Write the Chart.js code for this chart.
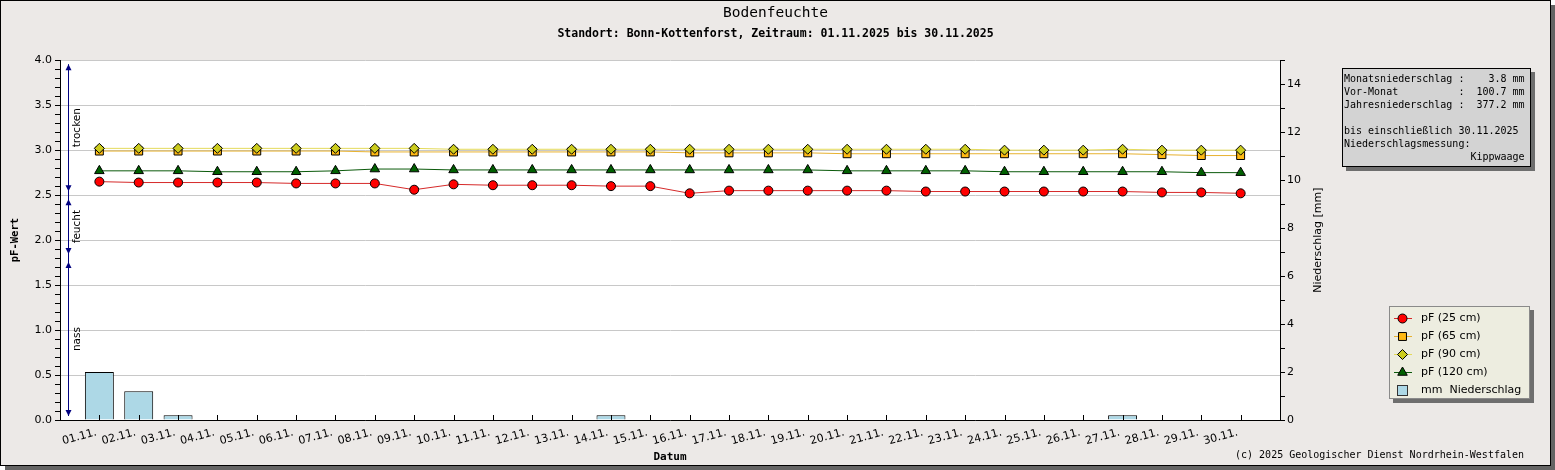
<!DOCTYPE html>
<html>
<head>
<meta charset="utf-8">
<title>Bodenfeuchte</title>
<script src="https://cdn.jsdelivr.net/npm/chart.js@4"></script>
<style>
  body { margin: 0; background: #fff; }
  #frame { position: absolute; left: 0; top: 0; width: 1549px; height: 464px; border: 1px solid #000; background: #ece9e7; box-shadow: 5px 5px 0 #646464; }
  #chart { position: absolute; left: 0; top: 0; }
  #info { position: absolute; left: 1341px; top: 67px; width: 189px; height: 99px; box-sizing: border-box; background: #d3d3d3; border: 1px solid #000; box-shadow: 4px 4px 0 #6e6e6e; font: 10px/13px 'DejaVu Sans Mono', monospace; white-space: pre; padding: 2.5px 0 0 1px; margin: 0; }
  #legend { position: absolute; left: 1388px; top: 305px; width: 141px; height: 93px; box-sizing: border-box; background: #edede0; border: 1px solid #8a8a8a; box-shadow: 4px 4px 0 #6e6e6e; }
  .legend-row { position: absolute; left: 0; width: 100%; height: 18px; }
  .legend-row canvas { position: absolute; left: 3px; top: 0; }
  .legend-row span { position: absolute; left: 31px; top: 0; font: 11px/18px 'DejaVu Sans', sans-serif; white-space: pre; }
  #copyright { position: absolute; right: 26px; top: 447px; font: 10px/13px 'DejaVu Sans Mono', monospace; white-space: pre; }
</style>
</head>
<body>
<div id="frame">
  <canvas id="chart" width="1549" height="464"></canvas>
  <pre id="info"></pre>
  <div id="legend"></div>
  <div id="copyright">(c) 2025 Geologischer Dienst Nordrhein-Westfalen</div>
</div>
<script>
// --- data ---
const dateLabels = ['01.11.', '02.11.', '03.11.', '04.11.', '05.11.', '06.11.', '07.11.', '08.11.', '09.11.', '10.11.',
  '11.11.', '12.11.', '13.11.', '14.11.', '15.11.', '16.11.', '17.11.', '18.11.', '19.11.', '20.11.',
  '21.11.', '22.11.', '23.11.', '24.11.', '25.11.', '26.11.', '27.11.', '28.11.', '29.11.', '30.11.'];

const pf25 = [2.65, 2.64, 2.64, 2.64, 2.64, 2.63, 2.63, 2.63, 2.56, 2.62,
  2.61, 2.61, 2.61, 2.60, 2.60, 2.52, 2.55, 2.55, 2.55, 2.55,
  2.55, 2.54, 2.54, 2.54, 2.54, 2.54, 2.54, 2.53, 2.53, 2.52];
const pf65 = [2.99, 2.99, 2.99, 2.99, 2.99, 2.99, 2.99, 2.98, 2.98, 2.98,
  2.98, 2.98, 2.98, 2.98, 2.98, 2.97, 2.97, 2.97, 2.97, 2.96,
  2.96, 2.96, 2.96, 2.96, 2.96, 2.96, 2.96, 2.95, 2.94, 2.94];
const pf90 = [3.02, 3.02, 3.02, 3.02, 3.02, 3.02, 3.02, 3.02, 3.02, 3.01,
  3.01, 3.01, 3.01, 3.01, 3.01, 3.01, 3.01, 3.01, 3.01, 3.01,
  3.01, 3.01, 3.01, 3.00, 3.00, 3.00, 3.01, 3.00, 3.00, 3.00];
const pf120 = [2.77, 2.77, 2.77, 2.76, 2.76, 2.76, 2.77, 2.79, 2.79, 2.78,
  2.78, 2.78, 2.78, 2.78, 2.78, 2.78, 2.78, 2.78, 2.78, 2.77,
  2.77, 2.77, 2.77, 2.76, 2.76, 2.76, 2.76, 2.76, 2.75, 2.75];
const precip = [2.0, 1.2, 0.2, 0, 0, 0, 0, 0, 0, 0,
  0, 0, 0, 0.2, 0, 0, 0, 0, 0, 0,
  0, 0, 0, 0, 0, 0, 0.2, 0, 0, 0];

const seriesLabels = ['pF (25 cm)', 'pF (65 cm)', 'pF (90 cm)', 'pF (120 cm)'];
const precipLabel = 'mm  Niederschlag';

// pF class limits (top to bottom) and their names
const zoneBounds = [4.0, 2.5, 1.8, 0];
const zoneNames = ['trocken', 'feucht', 'nass'];

const infoLines = [
  'Monatsniederschlag :    3.8 mm',
  'Vor-Monat          :  100.7 mm',
  'Jahresniederschlag :  377.2 mm',
  '',
  'bis einschließlich 30.11.2025',
  'Niederschlagsmessung:',
  '                     Kippwaage'
];

// --- styles ---
const MONO = "'DejaVu Sans Mono', monospace";
const SANS = "'DejaVu Sans', sans-serif";
const seriesStyles = [
  { line: '#d62a2a', fill: '#ff0000', point: 'circle', radius: 4.5 },
  { line: '#e8b230', fill: '#ffb914', point: 'rect', radius: 5.6 },
  { line: '#e4da5a', fill: '#cccc1e', point: 'rectRot', radius: 5 },
  { line: '#0b5a0b', fill: '#006000', point: 'triangle', radius: 5.5 }
];
const precipColor = '#add8e6';
const zoneColor = '#000080';

Chart.defaults.font.family = SANS;
Chart.defaults.font.size = 11;
Chart.defaults.color = '#000';

const toPoints = (values) => values.map((v, i) => ({ x: i + 1, y: v }));
const isMajor = (v) => Math.abs(v * 2 - Math.round(v * 2)) < 1e-6;

const datasets = [pf25, pf65, pf90, pf120].map((values, i) => ({
  type: 'line',
  label: seriesLabels[i],
  data: toPoints(values),
  yAxisID: 'y',
  borderColor: seriesStyles[i].line,
  borderWidth: 1,
  pointStyle: seriesStyles[i].point,
  pointRadius: seriesStyles[i].radius,
  pointBackgroundColor: seriesStyles[i].fill,
  pointBorderColor: '#000',
  pointBorderWidth: 1,
  tension: 0,
  order: 4 - i //deeper layers on top
}));

datasets.push({
  type: 'bar',
  label: precipLabel,
  data: toPoints(precip),
  yAxisID: 'y2',
  backgroundColor: precipColor,
  borderColor: '#000',
  borderWidth: 1,
  barPercentage: 0.92,
  categoryPercentage: 0.8,
  order: 10
});

//white plot area on the grey page
const plotBackground = {
  id: 'plotBackground',
  beforeDraw(chart) {
    const { ctx, chartArea: a } = chart;
    ctx.save();
    ctx.fillStyle = '#fff';
    ctx.fillRect(a.left, a.top, a.right - a.left, a.bottom - a.top);
    ctx.restore();
  }
};

//date ticks point into the plot
const innerTicks = {
  id: 'innerTicks',
  afterDatasetsDraw(chart) {
    const { ctx, chartArea: a, scales: { x } } = chart;
    ctx.save();
    ctx.strokeStyle = '#000';
    ctx.lineWidth = 1;
    ctx.beginPath();
    x.ticks.forEach((t) => {
      const px = Math.round(x.getPixelForValue(t.value)) + 0.5;
      ctx.moveTo(px, a.bottom);
      ctx.lineTo(px, a.bottom - 5);
    });
    ctx.stroke();
    ctx.restore();
  }
};

//trocken / feucht / nass arrows, plus the right axis title (reads bottom to top)
const moistureZones = {
  id: 'moistureZones',
  afterDraw(chart) {
    const { ctx, chartArea: a, scales: { y } } = chart;
    const x = a.left + 8.5;
    const head = (tipY, dir) => {
      ctx.beginPath();
      ctx.moveTo(x, tipY);
      ctx.lineTo(x - 3, tipY - dir * 6);
      ctx.lineTo(x + 3, tipY - dir * 6);
      ctx.closePath();
      ctx.fill();
    };

    ctx.save();
    ctx.strokeStyle = zoneColor;
    ctx.fillStyle = zoneColor;
    ctx.lineWidth = 1;
    ctx.beginPath();
    ctx.moveTo(x, y.getPixelForValue(zoneBounds[0]) + 4);
    ctx.lineTo(x, y.getPixelForValue(zoneBounds[zoneBounds.length - 1]) - 4);
    ctx.stroke();

    zoneNames.forEach((name, i) => {
      const top = y.getPixelForValue(zoneBounds[i]);
      const bottom = y.getPixelForValue(zoneBounds[i + 1]);
      ctx.fillStyle = zoneColor;
      head(top + 4, -1);
      head(bottom - 4, 1);

      ctx.save();
      ctx.fillStyle = '#000';
      ctx.font = '10.5px ' + SANS;
      ctx.textAlign = 'center';
      ctx.textBaseline = 'middle';
      ctx.translate(a.left + 17, (top + bottom) / 2);
      ctx.rotate(-Math.PI / 2);
      ctx.fillText(name, 0, 0);
      ctx.restore();
    });

    ctx.fillStyle = '#000';
    ctx.font = '11px ' + SANS;
    ctx.textAlign = 'center';
    ctx.textBaseline = 'middle';
    ctx.translate(a.right + 38, (a.top + a.bottom) / 2);
    ctx.rotate(-Math.PI / 2);
    ctx.fillText('Niederschlag [mm]', 0, 0);
    ctx.restore();
  }
};

new Chart(document.getElementById('chart'), {
  type: 'line',
  data: { datasets },
  plugins: [plotBackground, innerTicks, moistureZones],
  options: {
    responsive: false,
    animation: false,
    events: [],
    layout: { padding: 0 },
    plugins: {
      legend: { display: false },
      tooltip: { enabled: false },
      title: {
        display: true,
        text: 'Bodenfeuchte',
        color: '#000',
        font: { family: MONO, size: 14.5, weight: 'normal' },
        padding: { top: 4, bottom: 4 }
      },
      subtitle: {
        display: true,
        text: 'Standort: Bonn-Kottenforst, Zeitraum: 01.11.2025 bis 30.11.2025',
        color: '#000',
        font: { family: MONO, size: 11.5, weight: 'bold' },
        padding: { top: 1, bottom: 19 }
      }
    },
    scales: {
      x: {
        type: 'linear',
        min: 0,
        max: dateLabels.length + 1,
        offset: false,
        afterBuildTicks: (axis) => {
          axis.ticks = dateLabels.map((_, i) => ({ value: i + 1 }));
        },
        afterFit: (axis) => { axis.height = 45; },
        ticks: {
          autoSkip: false,
          minRotation: 15,
          maxRotation: 15,
          padding: 6,
          labelOffset: -3,
          font: { size: 11 },
          color: '#000',
          callback: (v) => dateLabels[v - 1]
        },
        grid: { display: false, drawTicks: false },
        border: { color: '#000' },
        title: {
          display: true,
          text: 'Datum',
          color: '#000',
          font: { family: MONO, size: 11, weight: 'bold' },
          padding: { top: 0, bottom: 1 }
        }
      },
      y: {
        position: 'left',
        min: 0,
        max: 4,
        afterFit: (axis) => { axis.width = 59; },
        ticks: {
          stepSize: 0.1,
          autoSkip: false,
          padding: 3,
          color: '#000',
          callback: (v) => isMajor(v) ? v.toFixed(1) : ''
        },
        grid: {
          color: (c) => (c.tick && isMajor(c.tick.value)) ? '#c8c8c8' : 'rgba(0,0,0,0)',
          tickColor: '#000',
          tickLength: 5
        },
        border: { color: '#000' },
        title: {
          display: true,
          text: 'pF-Wert',
          color: '#000',
          font: { family: MONO, size: 10.5, weight: 'bold' },
          padding: { top: 7.5, bottom: 0 }
        }
      },
      y2: {
        position: 'right',
        min: 0,
        max: 15,
        //wide box so the info panel and legend fit right of the axis
        afterFit: (axis) => { axis.width = 270; },
        ticks: {
          stepSize: 1,
          autoSkip: false,
          padding: 2,
          color: '#000',
          callback: (v) => v % 2 === 0 ? v : ''
        },
        grid: { drawOnChartArea: false, color: '#000', tickLength: 5 },
        border: { color: '#000' }
      }
    }
  }
});

//info box
document.getElementById('info').textContent = infoLines.join('\n');

//legend box, icons drawn the same way as the chart points
const legendEl = document.getElementById('legend');
const legendRow = (index, text, paint) => {
  const row = document.createElement('div');
  row.className = 'legend-row';
  row.style.top = (1.7 + index * 18) + 'px';
  const icon = document.createElement('canvas');
  icon.width = 20;
  icon.height = 18;
  paint(icon.getContext('2d'));
  const label = document.createElement('span');
  label.textContent = text;
  row.append(icon, label);
  legendEl.append(row);
};

seriesLabels.forEach((text, i) => {
  const s = seriesStyles[i];
  legendRow(i, text, (ctx) => {
    ctx.strokeStyle = s.line;
    ctx.lineWidth = 1;
    ctx.beginPath();
    ctx.moveTo(1, 9.5);
    ctx.lineTo(19, 9.5);
    ctx.stroke();
    ctx.fillStyle = s.fill;
    ctx.strokeStyle = '#000';
    Chart.helpers.drawPoint(ctx, { pointStyle: s.point, radius: s.radius, borderWidth: 1, rotation: 0 }, 9.5, 9.5);
  });
});

legendRow(seriesLabels.length, precipLabel, (ctx) => {
  ctx.fillStyle = precipColor;
  ctx.fillRect(4, 4, 11, 11);
  ctx.strokeStyle = '#333';
  ctx.lineWidth = 1;
  ctx.strokeRect(4.5, 4.5, 10, 10);
});
</script>
</body>
</html>
